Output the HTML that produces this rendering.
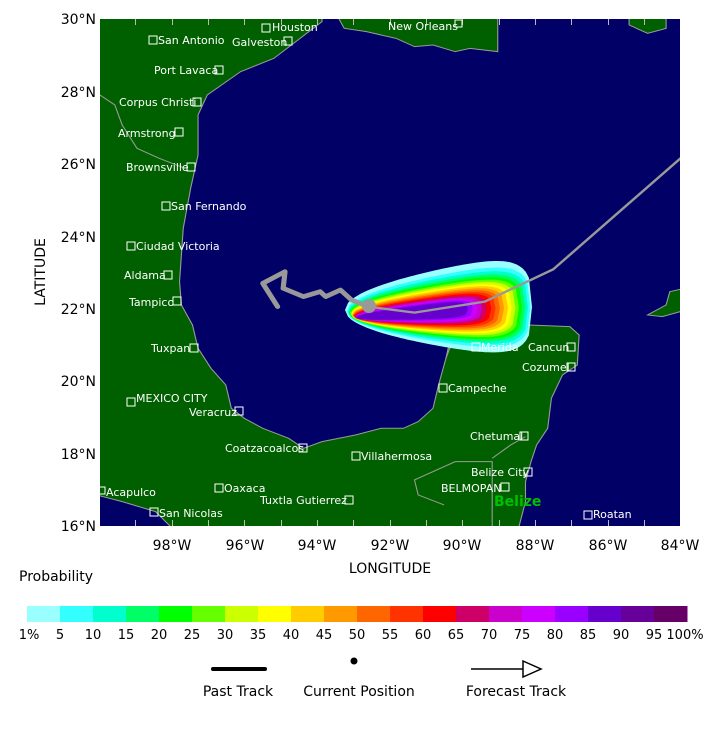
<!DOCTYPE html>
<html><head><meta charset="utf-8"><style>
body{margin:0;background:#fff;width:720px;height:733px;overflow:hidden;font-family:"Liberation Sans","DejaVu Sans",sans-serif}
svg{position:absolute;left:0;top:0}
.c{fill:#fff;font-size:11px;font-family:"DejaVu Sans","Liberation Sans",sans-serif}
.b{fill:none;stroke:#fff;stroke-width:1}
.ax{font-size:14px;fill:#000;font-family:"DejaVu Sans","Liberation Sans",sans-serif}
.lb{font-size:13px}
</style></head><body>
<svg width="720" height="733" viewBox="0 0 720 733">
<defs><clipPath id="cp"><rect x="100" y="19" width="580" height="507"/></clipPath></defs>
<g clip-path="url(#cp)">
<rect x="100" y="19" width="580" height="507" fill="#006000"/>
<g transform="translate(100,15) scale(0.37,0.3333)">
<polygon fill="#000066" stroke="#9a9a9a" stroke-width="3" points="600,0 600,20 470,130 380,170 290,240 265,300 265,420 245,520 225,640 215,800 220,870 250,930 265,1000 300,1060 340,1110 355,1180 390,1210 440,1240 510,1270 550,1300 600,1280 690,1260 760,1240 820,1240 860,1220 900,1180 915,1110 935,1030 945,980 1000,960 1100,945 1160,930 1270,935 1295,960 1290,1050 1250,1080 1220,1150 1210,1240 1180,1290 1165,1340 1150,1400 1150,1460 1130,1545 1600,1545 1600,0 1530,0 1530,40 1480,55 1430,30 1430,0 1075,0 1075,110 1000,100 960,110 900,90 850,95 800,70 720,50 660,40 640,0"/>
<polygon fill="#006000" stroke="#9a9a9a" stroke-width="3" points="1600,815 1540,830 1530,870 1480,900 1520,905 1600,880"/>
<polygon fill="#000066" stroke="#9a9a9a" stroke-width="3" points="-10,1440 60,1460 150,1490 200,1545 -10,1545"/>
<polyline fill="none" stroke="#9a9a9a" stroke-width="3" points="935,1030 945,1000 1000,970 1100,950"/>
<polyline fill="none" stroke="#9a9a9a" stroke-width="3" points="1060,1545 1060,1340 960,1340 850,1395 860,1440 930,1470"/>
<polyline fill="none" stroke="#9a9a9a" stroke-width="3" points="1060,1330 1110,1290 1150,1265"/>
<polyline fill="none" stroke="#9a9a9a" stroke-width="3" points="0,240 40,270 60,330 100,400 160,430 230,460"/>
</g>
<g id="blob"></g>
<g transform="translate(100,15) scale(0.37,0.3333)" fill="none" stroke="#999" stroke-linejoin="round" stroke-linecap="round">
<polyline stroke-width="14" points="480,875 440,805 500,770 495,820 550,845 595,830 610,845 650,825 680,855 725,875"/>
<polyline stroke-width="7" points="725,875 850,893 1040,860 1225,763 1600,400"/>
</g>
<circle cx="369" cy="306" r="7" fill="#999"/>
<g fill="#bbb">
<rect x="135" y="19" width="1" height="6"/><rect x="172" y="19" width="1" height="6"/><rect x="208" y="19" width="1" height="6"/><rect x="244" y="19" width="1" height="6"/><rect x="281" y="19" width="1" height="6"/><rect x="317" y="19" width="1" height="6"/><rect x="353" y="19" width="1" height="6"/><rect x="390" y="19" width="1" height="6"/><rect x="426" y="19" width="1" height="6"/><rect x="462" y="19" width="1" height="6"/><rect x="499" y="19" width="1" height="6"/><rect x="535" y="19" width="1" height="6"/><rect x="571" y="19" width="1" height="6"/><rect x="608" y="19" width="1" height="6"/><rect x="644" y="19" width="1" height="6"/>
<rect x="135" y="520" width="1" height="6"/><rect x="172" y="520" width="1" height="6"/><rect x="208" y="520" width="1" height="6"/><rect x="244" y="520" width="1" height="6"/><rect x="281" y="520" width="1" height="6"/><rect x="317" y="520" width="1" height="6"/><rect x="353" y="520" width="1" height="6"/><rect x="390" y="520" width="1" height="6"/><rect x="426" y="520" width="1" height="6"/><rect x="462" y="520" width="1" height="6"/><rect x="499" y="520" width="1" height="6"/><rect x="535" y="520" width="1" height="6"/><rect x="571" y="520" width="1" height="6"/><rect x="608" y="520" width="1" height="6"/><rect x="644" y="520" width="1" height="6"/>
</g>
<g class="c">
<rect class="b" x="262" y="24" width="8" height="8"/><text x="272" y="31">Houston</text>
<rect class="b" x="149" y="36" width="8" height="8"/><text x="158" y="44">San Antonio</text>
<text x="232" y="46">Galveston</text><rect class="b" x="284" y="37" width="8" height="8"/>
<text x="388" y="30">New Orleans</text><rect class="b" x="455" y="20" width="7" height="7"/>
<text x="154" y="74">Port Lavaca</text><rect class="b" x="215" y="66" width="8" height="8"/>
<text x="119" y="106">Corpus Christi</text><rect class="b" x="193" y="98" width="8" height="8"/>
<text x="118" y="137">Armstrong</text><rect class="b" x="175" y="128" width="8" height="8"/>
<text x="126" y="171">Brownsville</text><rect class="b" x="187" y="163" width="8" height="8"/>
<rect class="b" x="162" y="202" width="8" height="8"/><text x="171" y="210">San Fernando</text>
<rect class="b" x="127" y="242" width="8" height="8"/><text x="136" y="250">Ciudad Victoria</text>
<text x="124" y="279">Aldama</text><rect class="b" x="164" y="271" width="8" height="8"/>
<text x="129" y="306">Tampico</text><rect class="b" x="173" y="297" width="8" height="8"/>
<text x="151" y="352">Tuxpan</text><rect class="b" x="190" y="344" width="8" height="8"/>
<rect class="b" x="127" y="398" width="8" height="8"/><text x="136" y="402">MEXICO CITY</text>
<text x="189" y="416">Veracruz</text><rect class="b" x="235" y="407" width="8" height="8"/>
<text x="225" y="452">Coatzacoalcos</text><rect class="b" x="299" y="444" width="8" height="8"/>
<rect class="b" x="352" y="452" width="8" height="8"/><text x="361" y="460">Villahermosa</text>
<rect class="b" x="439" y="384" width="8" height="8"/><text x="448" y="392">Campeche</text>
<rect class="b" x="472" y="343" width="8" height="8"/><text x="481" y="351">Merida</text>
<text x="528" y="351">Cancun</text><rect class="b" x="567" y="343" width="8" height="8"/>
<text x="522" y="371">Cozumel</text><rect class="b" x="567" y="363" width="8" height="8"/>
<text x="470" y="440">Chetumal</text><rect class="b" x="520" y="432" width="8" height="8"/>
<text x="471" y="476">Belize City</text><rect class="b" x="524" y="468" width="8" height="8"/>
<text x="441" y="492">BELMOPAN</text><rect class="b" x="501" y="483" width="8" height="8"/>
<text x="494" y="506" style="fill:#00c000;font-weight:bold;font-size:14px">Belize</text>
<rect class="b" x="98" y="487" width="7" height="7"/><text x="106" y="496">Acapulco</text>
<rect class="b" x="215" y="484" width="8" height="8"/><text x="224" y="492">Oaxaca</text>
<text x="260" y="504">Tuxtla Gutierrez</text><rect class="b" x="345" y="496" width="8" height="8"/>
<rect class="b" x="150" y="508" width="8" height="8"/><text x="159" y="517">San Nicolas</text>
<rect class="b" x="584" y="511" width="8" height="8"/><text x="593" y="518">Roatan</text>
</g>
</g>
<g class="ax" text-anchor="middle">
<text x="172" y="550">98°W</text><text x="245" y="550">96°W</text><text x="317" y="550">94°W</text><text x="390" y="550">92°W</text><text x="462" y="550">90°W</text><text x="535" y="550">88°W</text><text x="608" y="550">86°W</text><text x="680" y="550">84°W</text>
<text x="390" y="573">LONGITUDE</text>
</g>
<g class="ax" text-anchor="end">
<text x="96" y="24">30°N</text><text x="96" y="97">28°N</text><text x="96" y="169">26°N</text><text x="96" y="242">24°N</text><text x="96" y="314">22°N</text><text x="96" y="386">20°N</text><text x="96" y="459">18°N</text><text x="96" y="531">16°N</text>
</g>
<text class="ax" transform="translate(45,272) rotate(-90)" text-anchor="middle">LATITUDE</text>
<text class="ax" x="19" y="581">Probability</text>
<g id="bar"></g>
<g class="ax lb" text-anchor="middle" id="lab"></g>
<rect x="211" y="667" width="56" height="4" rx="2" fill="#000"/>
<circle cx="354" cy="661" r="3.5" fill="#000"/>
<line x1="471" y1="669" x2="524" y2="669" stroke="#000" stroke-width="1.5"/>
<polygon points="523,661 541,669 523,677" fill="#fff" stroke="#000" stroke-width="1.5"/>
<g class="ax" text-anchor="middle"><text x="238" y="696">Past Track</text><text x="359" y="696">Current Position</text><text x="516" y="696">Forecast Track</text></g>
</svg>
<script>
var cols=["#99FFFF","#33FFFF","#00FFCC","#00FF66","#00FF00","#66FF00","#CCFF00","#FFFF00","#FFCC00","#FF9900","#FF6600","#FF3300","#FF0000","#CC0066","#CC00CC","#CC00FF","#9900FF","#6600CC","#660099","#660066"];
var ns="http://www.w3.org/2000/svg",bar=document.getElementById("bar"),lab=document.getElementById("lab");
var labs=["1%","5","10","15","20","25","30","35","40","45","50","55","60","65","70","75","80","85","90","95","100%"];
for(var i=0;i<20;i++){var r=document.createElementNS(ns,"rect");r.setAttribute("x",27+i*33);r.setAttribute("y",606);r.setAttribute("width",33.5);r.setAttribute("height",16);r.setAttribute("fill",cols[i]);bar.appendChild(r);}
for(var i=0;i<21;i++){var t=document.createElementNS(ns,"text");t.setAttribute("x",27+i*33+(i==0?2:0)+(i==20?-2:0));t.setAttribute("y",639);t.textContent=labs[i];lab.appendChild(t);}
var blob=document.getElementById("blob");
function f(u){return Math.pow(u,0.5)*Math.pow(Math.max(0,1-Math.pow(u,8)),0.3);}
for(var i=0;i<18;i++){var t=Math.pow(i/19,0.65);var L=345+12*t,R=532-74*t*t,H=54*(1-t)+6*t;
var pts=[],N=60;
for(var k=0;k<=N;k++){var u=k/N;var x=L+u*(R-L);var yc=(310+8*t)-u*(3+6*t);pts.push([x,yc-H*f(u)*1.02]);}
for(var k=N;k>=0;k--){var u=k/N;var x=L+u*(R-L);var yc=(310+8*t)-u*(3+6*t);pts.push([x,yc+H*f(u)*0.98]);}
var p=document.createElementNS(ns,"polygon");p.setAttribute("points",pts.map(function(a){return a[0].toFixed(1)+","+a[1].toFixed(1)}).join(" "));p.setAttribute("fill",cols[i]);blob.appendChild(p);}
</script>
</body></html>
